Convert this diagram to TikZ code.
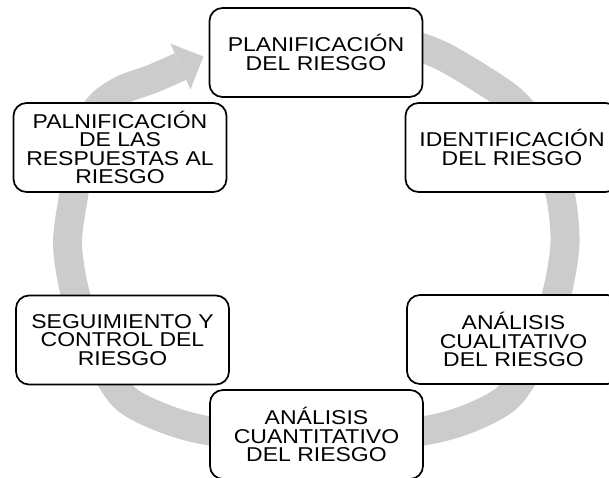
\documentclass[tikz,border=0pt]{standalone}
\usepackage{fontspec}
\setmainfont{Liberation Sans}[FakeStretch=1.15]
\definecolor{ringgray}{RGB}{204,204,204}
\tikzset{
  stagebox/.style={draw=black, line width=1.7pt, rounded corners=13pt, fill=white,
    minimum width=213pt, minimum height=89pt, align=center, inner sep=0pt,
    font=\fontsize{20}{18.6}\selectfont},
  ring/.style={draw=ringgray, line width=29pt}
}
\begin{document}
\begin{tikzpicture}[x=1pt,y=-1pt]
\useasboundingbox (0,0) rectangle (609,477);
% cycle arrow
\draw[ring] plot[smooth] coordinates {
 (330,35) (400,42) (440,55) (483,80) (515,103) (543,140) (560,193) (565,243)
 (557,293) (540,345) (510,395) (470,418) (423,431) (316,445) (210,431)
 (163,418) (123,396) (93,345) (75,293) (67.5,243) (74,193) (82,145)
 (98,108) (122,90) (152,79) (180.5,66.5)};
\fill[ringgray] (170.5,43.6) -- (203.4,56.5) -- (190.5,89.4) -- cycle;
% stages
\node[stagebox] (plan) at (316,52.5) {PLANIFICACIÓN\\DEL RIESGO};
\node[stagebox] (ident) at (512,147.5) {IDENTIFICACIÓN\\DEL RIESGO};
\node[stagebox] (cual) at (513.5,339.5) {ANÁLISIS\\CUALITATIVO\\DEL RIESGO};
\node[stagebox] (cuant) at (316.5,434.5) {ANÁLISIS\\CUANTITATIVO\\DEL RIESGO};
\node[stagebox] (segui) at (122.5,340) {SEGUIMIENTO Y\\CONTROL DEL\\RIESGO};
\node[stagebox] (resp) at (120,147.5) {PALNIFICACIÓN\\DE LAS\\RESPUESTAS AL\\RIESGO};
\end{tikzpicture}
\end{document}
